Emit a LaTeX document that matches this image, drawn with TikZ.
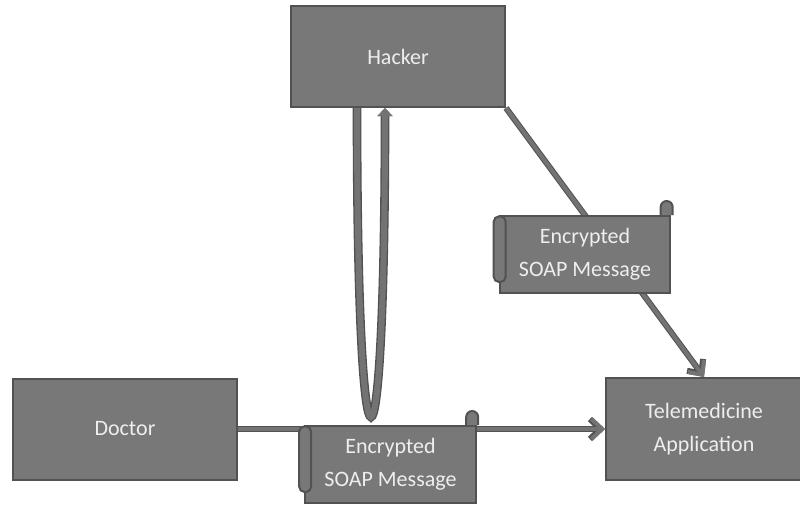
\documentclass[tikz,border=0pt]{standalone}
\usepackage{fontspec}
\setmainfont{Carlito}
\usetikzlibrary{arrows.meta,positioning}

\definecolor{boxgray}{RGB}{120,120,120}
\definecolor{edgegray}{RGB}{82,82,82}
\definecolor{linegray}{RGB}{115,115,115}
\definecolor{txtgray}{RGB}{238,238,238}

\tikzset{
  party/.style={draw=edgegray, line width=1.5pt, fill=boxgray, text=txtgray,
    font=\fontsize{16.5}{25}\selectfont, align=center, inner sep=0pt},
  msgbox/.style={draw=edgegray, line width=1.5pt, fill=boxgray, text=txtgray,
    font=\fontsize{16.5}{25}\selectfont, align=center, inner sep=0pt,
    minimum width=128pt, minimum height=57.75pt},
  curl/.style={draw=edgegray, line width=1.5pt, fill=boxgray},
  flow/.style={draw=linegray, line width=3pt,
    preaction={draw=edgegray, line width=4.5pt},
    -{Straight Barb[length=8pt,width=15pt]}},
  loopline/.style={draw=linegray, line width=4.5pt,
    preaction={draw=edgegray, line width=6.5pt},
    -{Triangle[length=6pt,width=11pt]}},
}

\begin{document}
\begin{tikzpicture}[x=0.75pt,y=0.75pt,yscale=-1,xscale=1]
\useasboundingbox (0,0) rectangle (800,518);

% the three parties
\node (hacker) at (398,56.5) [party, minimum width=160.5pt, minimum height=75.75pt] {Hacker};
\node (doctor) at (125,429) [party, minimum width=168pt, minimum height=75.75pt] {Doctor};
\node (tele) at (704,429) [party, minimum width=147pt, minimum height=76.5pt] {Telemedicine\\Application};

% message flows
\draw [flow] (doctor.east) -- (tele.west);
\draw [flow] (hacker.south east) -- (tele.north);

% intercepted copy going up to the hacker
\coordinate (dip) at (371,417);
\draw [loopline] ([xshift=-30.75pt]hacker.south) .. controls +(0,210) and +(-7,0) .. (dip)
  .. controls +(7,0) and +(0,210) .. ([xshift=-9.75pt]hacker.south);

% scroll on the doctor line
\node (msgA) at (390.5,464.5) [msgbox] {Encrypted\\SOAP Message};
\draw [curl] ([xshift=-8pt]msgA.north east) -- ++(0,-8) arc (180:360:4.5pt) -- ++(0,8);
\draw [curl, rounded corners=4pt] ([xshift=-3.75pt,yshift=1pt]msgA.north west) rectangle ([xshift=5.25pt,yshift=-9pt]msgA.south west);

% scroll on the hacker line
\node (msgB) at (585,254.5) [msgbox] {Encrypted\\SOAP Message};
\draw [curl] ([xshift=-8pt]msgB.north east) -- ++(0,-8) arc (180:360:4.5pt) -- ++(0,8);
\draw [curl, rounded corners=4pt] ([xshift=-3.75pt,yshift=1pt]msgB.north west) rectangle ([xshift=5.25pt,yshift=-9pt]msgB.south west);
\end{tikzpicture}
\end{document}
